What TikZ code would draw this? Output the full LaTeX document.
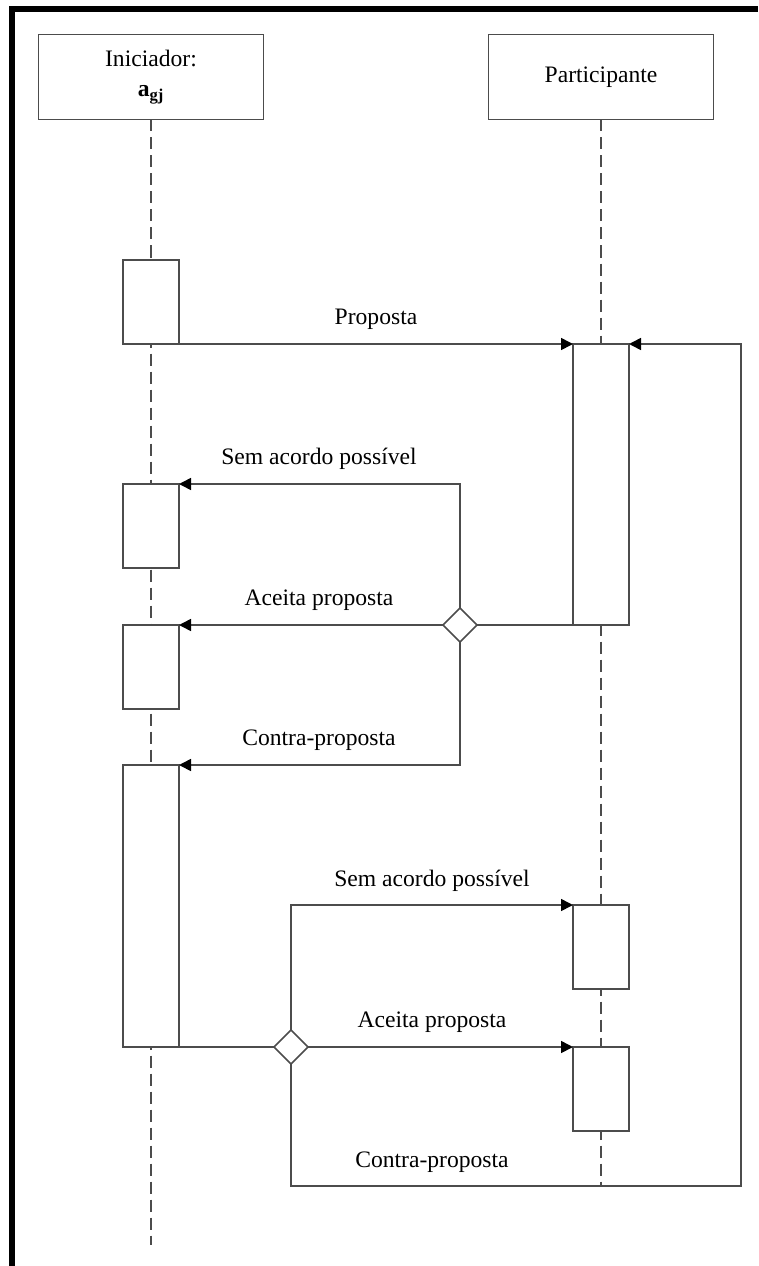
\documentclass[tikz,border=0pt]{standalone}
\usepackage{fontspec}
\setmainfont{Liberation Serif}
\usepackage{tikz}
\usetikzlibrary{arrows.meta,shapes.geometric,positioning}

\definecolor{linegray}{gray}{0.3}

\tikzset{
	obj/.style={draw=linegray, line width=1.2pt, fill=white, minimum width=168.75pt, minimum height=63.75pt, inner sep=0pt, outer sep=0pt, align=center},
	act/.style={draw=linegray, line width=1.2pt, fill=white, minimum width=42pt, inner sep=0pt, outer sep=0pt},
	choice/.style={diamond, draw=linegray, line width=1.2pt, fill=white, minimum width=25.5pt, minimum height=25.5pt, inner sep=0pt, outer sep=0pt},
	wire/.style={draw=linegray, line width=1.2pt},
	msg/.style={wire, -{Triangle[length=9pt,width=9pt,color=black]}},
	life/.style={draw=linegray, line width=1.2pt, dash pattern=on 9pt off 4.5pt},
	lbl/.style={anchor=base, inner sep=0pt}
}

\begin{document}
\begin{tikzpicture}[x=0.75pt, y=-0.75pt, font=\fontsize{17.7}{22.5}\selectfont]
		\useasboundingbox (0,0) rectangle (758,1266);
		% frame
		\draw[line width=4.5pt, miter limit=10] (12,1266) -- (12,9) -- (758,9);
		% objects and lifelines
		\node[obj] (ini) at (151,77) {Iniciador:\\\textbf{a}\textsubscript{\textbf{gj}}};
		\node[obj] (par) at (601,77) {Participante};
		\coordinate (iniend) at (151,1245);
		\coordinate (parend) at (601,1186);
		\draw[life] (ini.south) -- (iniend);
		\draw[life] (par.south) -- (parend);
		% activations
		\node[act, minimum height=63pt] (a1) at (151,302) {};
		\node[act, minimum height=63pt] (a2) at (151,526) {};
		\node[act, minimum height=63pt] (a3) at (151,667) {};
		\node[act, minimum height=211.5pt] (a4) at (151,906) {};
		\node[act, minimum height=210.75pt] (p1) at (601,484.5) {};
		\node[act, minimum height=63pt] (p2) at (601,947) {};
		\node[act, minimum height=63pt] (p3) at (601,1089) {};
		% decisions
		\node[choice] (d1) at (460,625) {};
		\node[choice] (d2) at (291,1047) {};
		\coordinate (turn) at (741,1186);
		% messages
		\draw[msg] (a1.south east) -- (p1.north west);
		\draw[wire] (p1.south west) -- (d1.east);
		\draw[msg] (d1.north) |- (a2.north east);
		\draw[msg] (d1.west) -- (a3.north east);
		\draw[msg] (d1.south) |- (a4.north east);
		\draw[wire] (a4.south east) -- (d2.west);
		\draw[msg] (d2.north) |- (p2.north west);
		\draw[msg] (d2.east) -- (p3.north west);
		\draw[msg] (d2.south) |- (turn) |- (p1.north east);
		% labels
		\node[lbl] (l1) at (376,324) {Proposta};
		\node[lbl] (l2) at (319,464) {Sem acordo possível};
		\node[lbl] (l3) at (319,605) {Aceita proposta};
		\node[lbl] (l4) at (319,745) {Contra-proposta};
		\node[lbl] (l5) at (432,886) {Sem acordo possível};
		\node[lbl] (l6) at (432,1027) {Aceita proposta};
		\node[lbl] (l7) at (432,1167) {Contra-proposta};
\end{tikzpicture}
\end{document}
